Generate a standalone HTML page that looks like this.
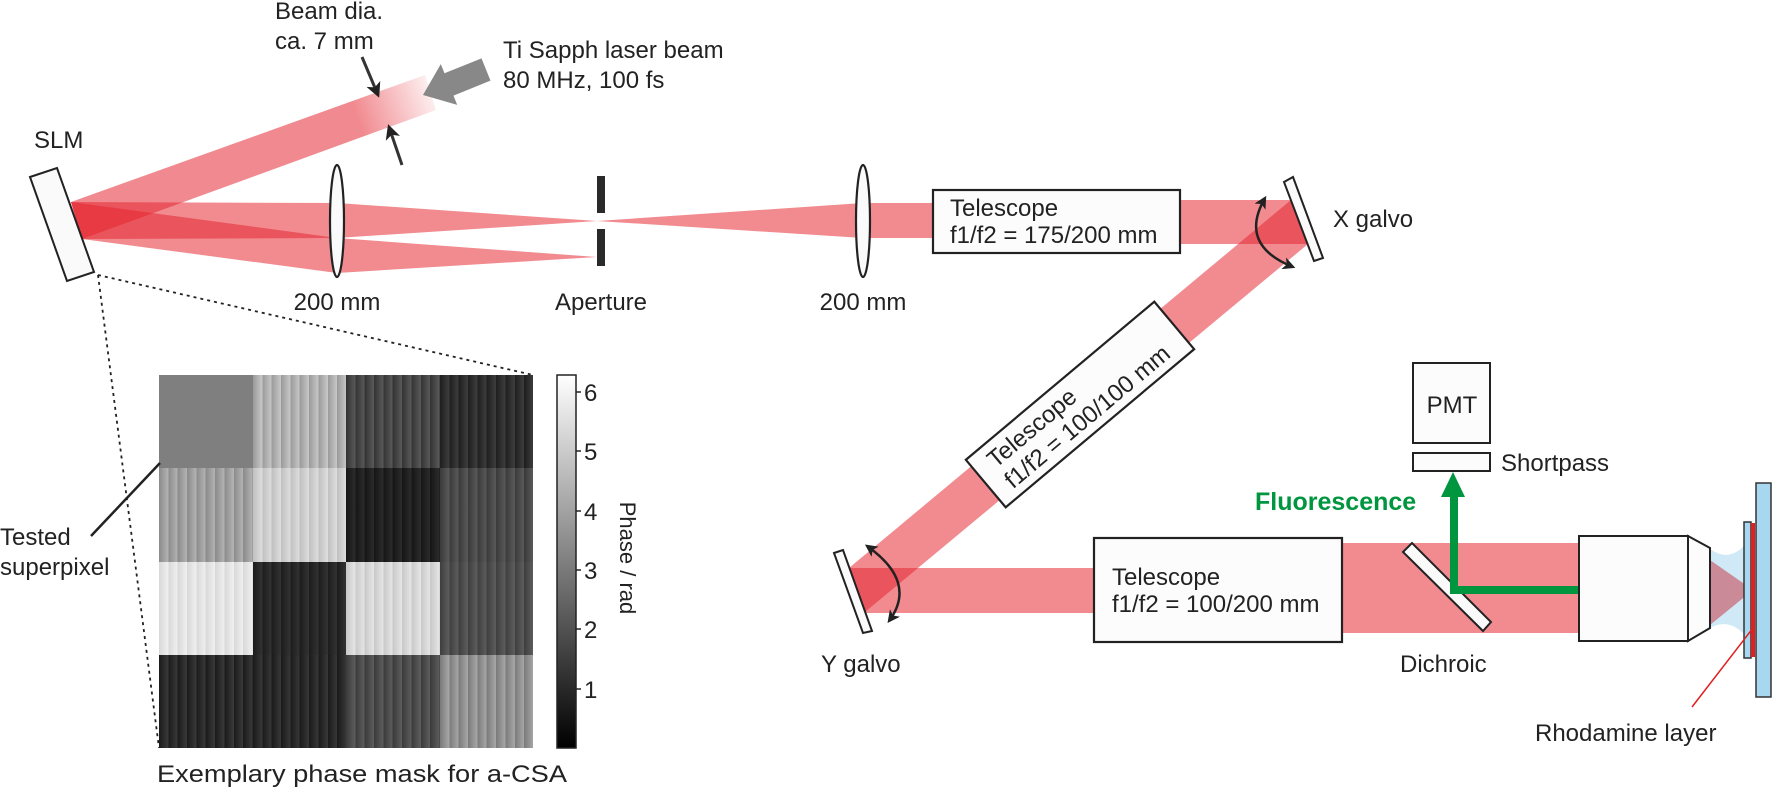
<!DOCTYPE html>
<html><head><meta charset="utf-8"><style>
html,body{margin:0;padding:0;background:#fff}
svg{display:block}
text{font-family:"Liberation Sans",sans-serif;fill:#222}
</style></head><body>
<svg width="1772" height="799" viewBox="0 0 1772 799" xmlns="http://www.w3.org/2000/svg">
<defs>
<linearGradient id="fade" gradientUnits="userSpaceOnUse" x1="355" y1="110" x2="440" y2="80">
<stop offset="0" stop-color="rgb(228,35,45)" stop-opacity="0.53"/>
<stop offset="1" stop-color="rgb(228,35,45)" stop-opacity="0"/>
</linearGradient>
<marker id="ah" viewBox="0 0 10 10" refX="8" refY="5" markerWidth="5" markerHeight="5" orient="auto-start-reverse" markerUnits="strokeWidth">
<path d="M0,0 L10,5 L0,10 L2.5,5 Z" fill="#222"/>
</marker>
</defs>

<g fill="rgb(228,35,45)" fill-opacity="0.53">
<polygon points="71,202 337,203 337,238 82,239"/>
<polygon points="71,202 337,238 337,273 82,239"/>
<polygon points="337,203 597,221 337,238"/>
<polygon points="337,238 597,257 337,273"/>
<polygon points="597,221 863,203 863,238"/>
<polygon points="863,203 933,203 933,238 863,238"/>
<polygon points="1180,200 1291,200 1308,244 1180,244"/>
<polygon points="1291,200 1308,244 865,612 849,568"/>
<polygon points="849,568 1094,568 1094,613 865,613"/>
<polygon points="1342,543 1579,543 1579,633 1342,633"/>
</g>
<polygon points="71,202 425,75 436,110 82,239" fill="url(#fade)"/>

<polygon points="30,177 57,168 94,272 67,281" fill="#fafafa" stroke="#222" stroke-width="2"/>
<text x="34" y="148" font-size="24">SLM</text>

<polygon points="423,95 440.8,64.1 444.5,73.3 481.5,58.4 490.5,80.6 453.5,95.6 457.2,104.9" fill="#888"/>
<line x1="362" y1="57" x2="378" y2="95" stroke="#333" stroke-width="3" marker-end="url(#ah)"/>
<line x1="402" y1="165" x2="389" y2="127" stroke="#333" stroke-width="3" marker-end="url(#ah)"/>
<text x="275" y="19" font-size="24">Beam dia.</text>
<text x="275" y="49" font-size="24">ca. 7 mm</text>
<text x="503" y="58" font-size="24">Ti Sapph laser beam</text>
<text x="503" y="88" font-size="24">80 MHz, 100 fs</text>

<ellipse cx="337" cy="221" rx="7" ry="56" fill="#fafafa" stroke="#222" stroke-width="2.2"/>
<ellipse cx="863" cy="221" rx="7" ry="56" fill="#fafafa" stroke="#222" stroke-width="2.2"/>
<text x="337" y="310" font-size="24" text-anchor="middle">200 mm</text>
<text x="863" y="310" font-size="24" text-anchor="middle">200 mm</text>
<rect x="597" y="176" width="8" height="37" fill="#2a2a2a"/>
<rect x="597" y="229" width="8" height="37" fill="#2a2a2a"/>
<text x="601" y="310" font-size="24" text-anchor="middle">Aperture</text>

<rect x="933" y="190" width="247" height="63" fill="#fcfcfc" stroke="#222" stroke-width="2.2"/>
<text x="950" y="216" font-size="24">Telescope</text>
<text x="950" y="243" font-size="24">f1/f2 = 175/200 mm</text>

<polygon points="1284,182 1293,177 1323,258 1314,261" fill="#fafafa" stroke="#222" stroke-width="2"/>
<path d="M1265,198 Q1238,245 1293,267" fill="none" stroke="#222" stroke-width="2.5" marker-start="url(#ah)" marker-end="url(#ah)"/>
<text x="1333" y="227" font-size="24">X galvo</text>

<g transform="translate(1080,404.5) rotate(-40)">
<rect x="-123" y="-31" width="246" height="62" fill="#fcfcfc" stroke="#222" stroke-width="2.2"/>
<text x="-106" y="-5" font-size="24">Telescope</text>
<text x="-106" y="22" font-size="24">f1/f2 = 100/100 mm</text>
</g>

<polygon points="834,553 843,550 872,631 863,633" fill="#fafafa" stroke="#222" stroke-width="2"/>
<path d="M867,546 Q918,582 889,621" fill="none" stroke="#222" stroke-width="2.5" marker-start="url(#ah)" marker-end="url(#ah)"/>
<text x="821" y="672" font-size="24">Y galvo</text>

<rect x="1094" y="538" width="248" height="104" fill="#fcfcfc" stroke="#222" stroke-width="2.2"/>
<text x="1112" y="585" font-size="24">Telescope</text>
<text x="1112" y="612" font-size="24">f1/f2 = 100/200 mm</text>

<polygon points="1403,552 1412,543 1491,622 1483,631" fill="#fafafa" stroke="#222" stroke-width="2"/>
<text x="1400" y="672" font-size="24">Dichroic</text>

<path d="M1579,590 L1454,590 L1454,494" fill="none" stroke="#009640" stroke-width="8"/>
<polygon points="1441,497 1453,472 1465,497" fill="#009640"/>
<text x="1255" y="510" font-size="25" font-weight="bold" style="fill:#009640">Fluorescence</text>

<rect x="1413" y="363" width="77" height="80" fill="#fcfcfc" stroke="#222" stroke-width="2"/>
<text x="1452" y="413" font-size="24" text-anchor="middle">PMT</text>
<rect x="1413" y="453" width="77" height="18" fill="#fcfcfc" stroke="#222" stroke-width="2"/>
<text x="1501" y="471" font-size="24">Shortpass</text>

<path d="M1710,549 Q1728,562 1744,546 L1744,634 Q1728,618 1710,628 Z" fill="#cfe9f7"/>
<polygon points="1710,560 1753,590 1710,625" fill="rgb(200,60,75)" fill-opacity="0.55"/>
<rect x="1579" y="536" width="109" height="105" fill="#fcfcfc" stroke="#222" stroke-width="2"/>
<polygon points="1688,536 1710,548 1710,628 1688,641" fill="#fcfcfc" stroke="#222" stroke-width="2"/>
<rect x="1744" y="522" width="7" height="136" fill="#a8d8f0" stroke="#333" stroke-width="1.5"/>
<rect x="1751" y="523" width="4" height="134" fill="#e02020"/>
<rect x="1756" y="483" width="15" height="214" fill="#a8d8f0" stroke="#333" stroke-width="1.5"/>
<line x1="1753" y1="628" x2="1692" y2="707" stroke="#e02020" stroke-width="1.5"/>
<text x="1535" y="741" font-size="24">Rhodamine layer</text>

<line x1="98" y1="275" x2="159" y2="748" stroke="#222" stroke-width="1.8" stroke-dasharray="3,4"/>
<line x1="98" y1="275" x2="533" y2="375" stroke="#222" stroke-width="1.8" stroke-dasharray="3,4"/>
</svg>

<div style="position:absolute;left:159px;top:375px;width:374px;height:373px;display:grid;grid-template-columns:repeat(4,93.5px);grid-template-rows:repeat(4,93.25px)">
<div style="background:#7f7f7f"></div>
<div style="background:repeating-linear-gradient(90deg,#9a9a9a 0,#c8c8c8 9.35px)"></div>
<div style="background:repeating-linear-gradient(90deg,#333 0,#5a5a5a 9.35px)"></div>
<div style="background:repeating-linear-gradient(90deg,#1e1e1e 0,#3e3e3e 9.35px)"></div>
<div style="background:repeating-linear-gradient(90deg,#8a8a8a 0,#b4b4b4 9.35px)"></div>
<div style="background:repeating-linear-gradient(90deg,#c0c0c0 0,#dedede 9.35px)"></div>
<div style="background:repeating-linear-gradient(90deg,#151515 0,#2c2c2c 9.35px)"></div>
<div style="background:repeating-linear-gradient(90deg,#3a3a3a 0,#5a5a5a 9.35px)"></div>
<div style="background:repeating-linear-gradient(90deg,#d8d8d8 0,#f0f0f0 9.35px)"></div>
<div style="background:repeating-linear-gradient(90deg,#1c1c1c 0,#333 9.35px)"></div>
<div style="background:repeating-linear-gradient(90deg,#c8c8c8 0,#e6e6e6 9.35px)"></div>
<div style="background:repeating-linear-gradient(90deg,#3e3e3e 0,#5e5e5e 9.35px)"></div>
<div style="background:repeating-linear-gradient(90deg,#1a1a1a 0,#3a3a3a 9.35px)"></div>
<div style="background:repeating-linear-gradient(90deg,#1a1a1a 0,#383838 9.35px)"></div>
<div style="background:repeating-linear-gradient(90deg,#3a3a3a 0,#5e5e5e 9.35px)"></div>
<div style="background:repeating-linear-gradient(90deg,#7a7a7a 0,#a8a8a8 9.35px)"></div>
</div>

<svg style="position:absolute;left:0;top:0" width="1772" height="799" viewBox="0 0 1772 799" xmlns="http://www.w3.org/2000/svg">
<defs><linearGradient id="cb2" x1="0" y1="1" x2="0" y2="0"><stop offset="0" stop-color="#000"/><stop offset="1" stop-color="#fff"/></linearGradient></defs>
<rect x="557" y="375" width="19" height="373" fill="url(#cb2)" stroke="#222" stroke-width="1.5"/>
<g stroke="#222" stroke-width="1.5">
<line x1="576" y1="392" x2="581" y2="392"/><line x1="576" y1="451" x2="581" y2="451"/>
<line x1="576" y1="511" x2="581" y2="511"/><line x1="576" y1="570" x2="581" y2="570"/>
<line x1="576" y1="629" x2="581" y2="629"/><line x1="576" y1="689" x2="581" y2="689"/>
</g>
<g font-family="DejaVu Sans, sans-serif" font-size="24" fill="#111">
<text x="584" y="401">6</text><text x="584" y="460">5</text><text x="584" y="520">4</text>
<text x="584" y="579">3</text><text x="584" y="638">2</text><text x="584" y="698">1</text>
<text transform="translate(620,558) rotate(90)" text-anchor="middle" font-size="22">Phase / rad</text>
</g>
<line x1="91" y1="536" x2="160" y2="463" stroke="#222" stroke-width="2.5"/>
<text x="0" y="545" font-size="24" font-family="Liberation Sans, sans-serif" fill="#222">Tested</text>
<text x="0" y="575" font-size="24" font-family="Liberation Sans, sans-serif" fill="#222">superpixel</text>
<text x="157" y="782" font-size="24" textLength="410" lengthAdjust="spacingAndGlyphs" font-family="Liberation Sans, sans-serif" fill="#222">Exemplary phase mask for a-CSA</text>
</svg>
</body></html>
